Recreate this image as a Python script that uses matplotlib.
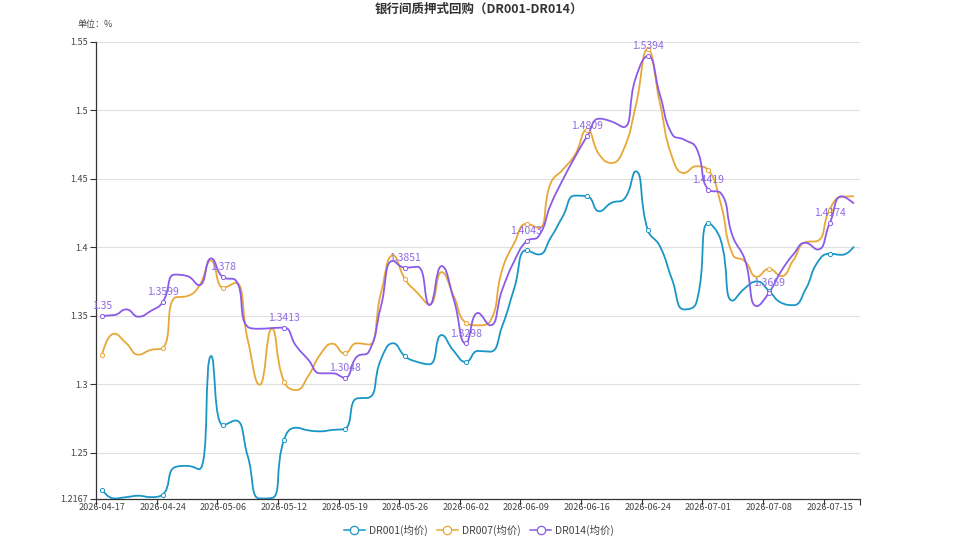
import matplotlib
matplotlib.use("Agg")
import matplotlib.pyplot as plt
import numpy as np
from matplotlib.path import Path
from matplotlib.patches import PathPatch
from matplotlib.lines import Line2D

plt.rcParams['font.family'] = ['Noto Sans CJK SC', 'DejaVu Sans']

dates = ['2026-04-17', '2026-04-20', '2026-04-21', '2026-04-22', '2026-04-23', '2026-04-24',
         '2026-04-27', '2026-04-28', '2026-04-29', '2026-04-30', '2026-05-06', '2026-05-07',
         '2026-05-08', '2026-05-09', '2026-05-11', '2026-05-12', '2026-05-13', '2026-05-14',
         '2026-05-15', '2026-05-18', '2026-05-19', '2026-05-20', '2026-05-21', '2026-05-22',
         '2026-05-25', '2026-05-26', '2026-05-27', '2026-05-28', '2026-05-29', '2026-06-01',
         '2026-06-02', '2026-06-03', '2026-06-04', '2026-06-05', '2026-06-08', '2026-06-09',
         '2026-06-10', '2026-06-11', '2026-06-12', '2026-06-15', '2026-06-16', '2026-06-17',
         '2026-06-18', '2026-06-22', '2026-06-23', '2026-06-24', '2026-06-25', '2026-06-26',
         '2026-06-29', '2026-06-30', '2026-07-01', '2026-07-02', '2026-07-03', '2026-07-06',
         '2026-07-07', '2026-07-08', '2026-07-09', '2026-07-10', '2026-07-13', '2026-07-14',
         '2026-07-15', '2026-07-16', '2026-07-17']

dr001 = [1.2232, 1.2167, 1.2177, 1.2187, 1.2177, 1.2196, 1.2395, 1.2405, 1.2380, 1.3206,
         1.2700, 1.2736, 1.2480, 1.2167, 1.2170, 1.2594, 1.2683, 1.2664, 1.2657, 1.2667,
         1.2675, 1.2896, 1.2903, 1.3182, 1.3299, 1.3203, 1.3163, 1.3146, 1.3359, 1.3243,
         1.3163, 1.3243, 1.3238, 1.3425, 1.3704, 1.3978, 1.3947, 1.4070, 1.4226, 1.4376,
         1.4371, 1.4262, 1.4323, 1.4347, 1.4553, 1.4126, 1.4007, 1.3765, 1.3546, 1.3594,
         1.4175, 1.4056, 1.3610, 1.3700, 1.3750, 1.3680, 1.3595, 1.3577, 1.3690, 1.3890,
         1.3952, 1.3944, 1.4005]

dr007 = [1.3216, 1.3369, 1.3299, 1.3216, 1.3250, 1.3265, 1.3631, 1.3643, 1.3716, 1.3903,
         1.3704, 1.3740, 1.3330, 1.2997, 1.3405, 1.3020, 1.2958, 1.3060, 1.3218, 1.3296,
         1.3225, 1.3299, 1.3290, 1.3667, 1.3940, 1.3765, 1.3667, 1.3583, 1.3818, 1.3643,
         1.3449, 1.3430, 1.3460, 1.3837, 1.4032, 1.4170, 1.4140, 1.4468, 1.4566, 1.4675,
         1.4857, 1.4675, 1.4614, 1.4711, 1.5027, 1.5444, 1.5051, 1.4658, 1.4541, 1.4590,
         1.4560, 1.4323, 1.3947, 1.3898, 1.3784, 1.3842, 1.3789, 1.3905, 1.4036, 1.4046,
         1.4274, 1.4367, 1.4371]

dr014 = [1.3500, 1.3505, 1.3546, 1.3493, 1.3534, 1.3599, 1.3800, 1.3790, 1.3723, 1.3918,
         1.3780, 1.3760, 1.3420, 1.3405, 1.3410, 1.3413, 1.3280, 1.3180, 1.3080, 1.3080,
         1.3048, 1.3200, 1.3238, 1.3570, 1.3900, 1.3851, 1.3857, 1.3578, 1.3862, 1.3619,
         1.3298, 1.3520, 1.3430, 1.3690, 1.3900, 1.4043, 1.4080, 1.4310, 1.4493, 1.4658,
         1.4809, 1.4937, 1.4917, 1.4876, 1.5233, 1.5394, 1.5112, 1.4825, 1.4784, 1.4723,
         1.4419, 1.4396, 1.4080, 1.3910, 1.3570, 1.3669, 1.3825, 1.3947, 1.4032, 1.3983,
         1.4174, 1.4371, 1.4318]

series = [('DR001(均价)', dr001, '#1a96c6'),
          ('DR007(均价)', dr007, '#e8a838'),
          ('DR014(均价)', dr014, '#8a5be8')]

ymin, ymax = 1.2167, 1.55
yticks = [1.2167, 1.25, 1.3, 1.35, 1.4, 1.45, 1.5, 1.55]
ytick_labels = ['1.2167', '1.25', '1.3', '1.35', '1.4', '1.45', '1.5', '1.55']
step = 5


def smooth_path(xs, ys, sx, sy, smooth=0.5):
    # echarts style bezier smoothing, control points clamped to neighbours
    px = np.asarray(xs, float) * sx
    py = np.asarray(ys, float) * sy
    n = len(px)
    verts = [(px[0], py[0])]
    codes = [Path.MOVETO]
    cp0 = (px[0], py[0])
    for k in range(1, n):
        x, y = px[k], py[k]
        x0, y0 = px[k - 1], py[k - 1]
        if k == n - 1:
            cp1 = (x, y)
            nxt = (x, y)
        else:
            x1, y1 = px[k + 1], py[k + 1]
            l0 = np.hypot(x - x0, y - y0)
            l1 = np.hypot(x1 - x, y1 - y)
            r = l1 / (l0 + l1)
            vx, vy = x1 - x0, y1 - y0
            ncx = x + vx * smooth * r
            ncy = y + vy * smooth * r
            ncx = max(min(ncx, max(x1, x)), min(x1, x))
            ncy = max(min(ncy, max(y1, y)), min(y1, y))
            vx, vy = ncx - x, ncy - y
            c1x = x - vx * l0 / l1
            c1y = y - vy * l0 / l1
            c1x = max(min(c1x, max(x0, x)), min(x0, x))
            c1y = max(min(c1y, max(y0, y)), min(y0, y))
            vx, vy = x - c1x, y - c1y
            cp1 = (c1x, c1y)
            nxt = (x + vx * l1 / l0, y + vy * l1 / l0)
        verts += [cp0, cp1, (x, y)]
        codes += [Path.CURVE4] * 3
        cp0 = nxt
    verts = np.array(verts)
    verts[:, 0] /= sx
    verts[:, 1] /= sy
    return Path(verts, codes)


fig = plt.figure(figsize=(9.58, 5.39), dpi=100)
ax = fig.add_axes([96 / 958, 1 - 498.5 / 539, 764 / 958, 457 / 539])

x = np.arange(len(dates))
sx = 764 / len(dates)
sy = 457 / (ymax - ymin)

handles = []
for name, vals, color in series:
    p = smooth_path(x, vals, sx, sy)
    ax.add_patch(PathPatch(p, fill=False, edgecolor=color, lw=1.3, zorder=3))
    mk = x[::step]
    ax.plot(mk, np.array(vals)[mk], ls='none', marker='o', ms=3.0, mfc='white',
            mec=color, mew=0.7, zorder=4)
    handles.append(Line2D([], [], color=color, lw=1.1, marker='o', ms=6,
                          mfc='white', mec=color, mew=0.9))

for i in x[::step]:
    ax.annotate(f"{dr014[i]:g}", (i, dr014[i]), xytext=(0, 3.5), textcoords='offset points',
                ha='center', va='bottom', color='#8f6ae6', fontsize=7.5, zorder=5)

ax.set_xlim(-0.5, len(dates) - 0.5)
ax.set_ylim(ymin, ymax)
ax.set_yticks(yticks)
ax.set_yticklabels(ytick_labels)
ax.set_xticks(x[::step])
ax.set_xticklabels([dates[i] for i in x[::step]])
ax.set_xticks(list(np.arange(-0.5, len(dates), step)) + [len(dates) - 0.5], minor=True)
ax.tick_params(axis='x', which='major', length=0, labelsize=6.5, labelcolor='#444', pad=3)
ax.tick_params(axis='x', which='minor', length=4, color='#333', width=0.8)
ax.tick_params(axis='y', length=4, color='#333', width=0.8, labelsize=6.5,
               labelcolor='#444', pad=2)

for yv in yticks[1:]:
    ax.axhline(yv, color='#e0e0e0', lw=0.8, zorder=1)

for s in ['top', 'right']:
    ax.spines[s].set_visible(False)
for s in ['left', 'bottom']:
    ax.spines[s].set_color('#333')
    ax.spines[s].set_linewidth(0.9)

fig.text(0.5, 1 - 9 / 539, '银行间质押式回购（DR001-DR014）', ha='center', va='center',
         fontsize=9, fontweight='bold', color='#333')
fig.text(77 / 958, 1 - 24 / 539, '单位：%', ha='left', va='center', fontsize=6.5, color='#444')

fig.legend(handles, [s[0] for s in series], loc='center', bbox_to_anchor=(0.5, 1 - 530 / 539),
           ncol=3, frameon=False, fontsize=7.5, handlelength=2.0, handletextpad=0.4,
           columnspacing=0.9, labelcolor='#444')

fig.savefig('out.png', dpi=100)
